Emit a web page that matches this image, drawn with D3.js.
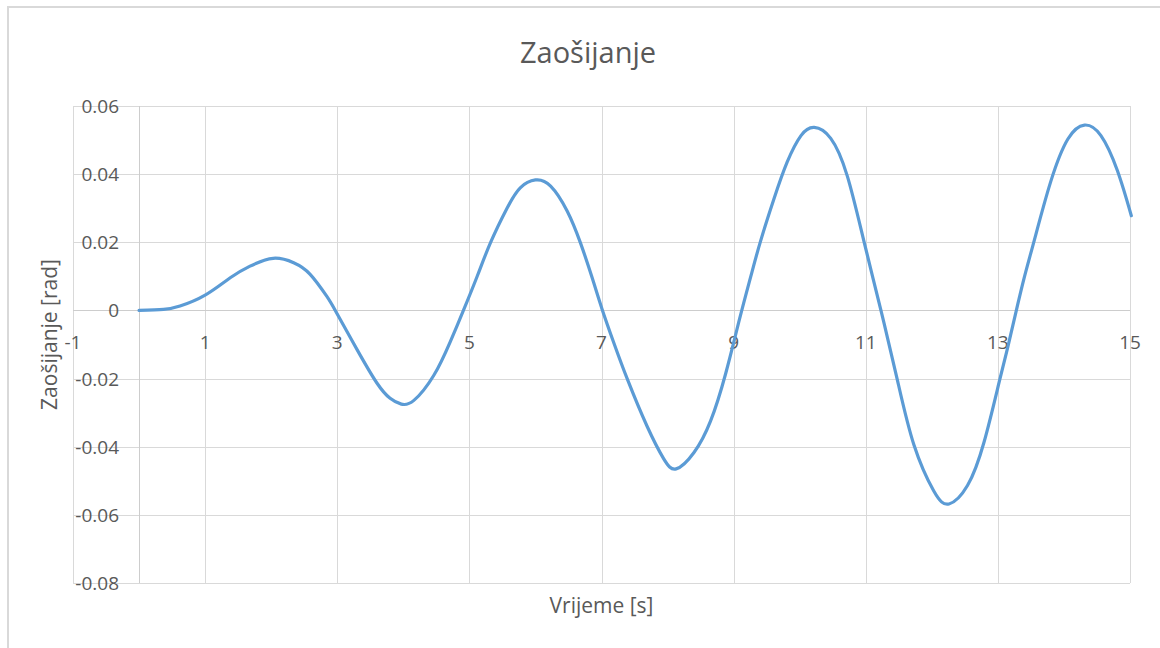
<!DOCTYPE html>
<html>
<head>
<meta charset="utf-8">
<script src="https://cdn.jsdelivr.net/npm/d3@7"></script>
<style>
  html, body { margin: 0; padding: 0; background: #fff; }
  svg { display: block; font-family: "Open Sans", "DejaVu Sans", sans-serif; }
</style>
</head>
<body>
<svg id="chart" width="1160" height="648"></svg>
<script>
// Time samples [s] and steering angle [rad]
const time = [0, 0.37, 0.62, 1.0, 1.38, 1.68, 2.03, 2.34, 2.59, 2.84, 2.97, 3.30, 3.60, 3.80, 3.97,
  4.16, 4.46, 4.71, 4.91, 5.12, 5.32, 5.57, 5.77, 6.00, 6.23, 6.48, 6.68, 6.86, 7.01, 7.19, 7.39,
  7.69, 7.94, 8.13, 8.40, 8.65, 8.88, 9.09, 9.26, 9.41, 9.61, 9.81, 10.02, 10.22, 10.47, 10.72,
  10.97, 11.23, 11.48, 11.73, 12.03, 12.26, 12.54, 12.79, 13.02, 13.15, 13.27, 13.40, 13.55,
  13.80, 14.06, 14.31, 14.56, 14.81, 15.02];
const angle = [0, 0.0003, 0.0013, 0.0045, 0.0096, 0.0130, 0.0153, 0.0140, 0.0106, 0.0042, 0,
  -0.0115, -0.0213, -0.0258, -0.0275,
  -0.0264, -0.0191, -0.0092, 0, 0.0101, 0.0199, 0.0300, 0.0360, 0.0383,
  0.0365, 0.0292, 0.0199, 0.0095, 0.0003, -0.0097, -0.0201, -0.0340, -0.0435, -0.0465,
  -0.0417, -0.0325, -0.0185, -0.0025, 0.0100, 0.0205, 0.0327, 0.0435, 0.0513, 0.0537,
  0.0505, 0.0395, 0.0205, 0, -0.0205, -0.0395, -0.0530, -0.0568,
  -0.0514, -0.0387, -0.0210, -0.0108, -0.0008, 0.0097, 0.0205, 0.0378, 0.0503, 0.0544,
  0.0513, 0.0410, 0.0278];

const xTicks = [-1, 1, 3, 5, 7, 9, 11, 13, 15];
const yTicks = [0.06, 0.04, 0.02, 0, -0.02, -0.04, -0.06, -0.08];
const yTickLabels = ["0.06", "0.04", "0.02", "0", "-0.02", "-0.04", "-0.06", "-0.08"];

const title = "Zaošijanje";
const xTitle = "Vrijeme [s]";
const yTitle = "Zaošijanje [rad]";

const svg = d3.select("#chart");
const plot = { left: 73, right: 1130, top: 106, bottom: 583 };

const x = d3.scaleLinear().domain([-1, 15]).range([plot.left, plot.right]);
const y = d3.scaleLinear().domain([-0.08, 0.06]).range([plot.bottom, plot.top]);

// chart frame
svg.append("rect")
  .attr("x", 8).attr("y", 7).attr("width", 1180).attr("height", 680)
  .attr("fill", "#fff").attr("stroke", "#d9d9d9").attr("stroke-width", 2);

// grid
const grid = svg.append("g").attr("shape-rendering", "crispEdges");
grid.selectAll(".hg").data(yTicks).join("line")
  .attr("x1", plot.left).attr("x2", plot.right)
  .attr("y1", d => Math.round(y(d)) + 0.5).attr("y2", d => Math.round(y(d)) + 0.5)
  .attr("stroke", "#d9d9d9").attr("stroke-width", 1);
grid.selectAll(".vg").data(xTicks).join("line")
  .attr("y1", plot.top).attr("y2", plot.bottom)
  .attr("x1", d => Math.round(x(d)) + 0.5).attr("x2", d => Math.round(x(d)) + 0.5)
  .attr("stroke", "#d9d9d9").attr("stroke-width", 1);

// axis lines crossing at the origin
const axes = svg.append("g").attr("shape-rendering", "crispEdges");
axes.append("line")
  .attr("x1", plot.left).attr("x2", plot.right)
  .attr("y1", Math.round(y(0)) + 0.5).attr("y2", Math.round(y(0)) + 0.5)
  .attr("stroke", "#cdcdcd");
axes.append("line")
  .attr("x1", Math.round(x(0)) + 0.5).attr("x2", Math.round(x(0)) + 0.5)
  .attr("y1", plot.top).attr("y2", plot.bottom)
  .attr("stroke", "#cdcdcd");

// y tick labels
svg.append("g").selectAll("text").data(yTicks).join("text")
  .attr("x", 119).attr("y", d => y(d) + 7)
  .attr("text-anchor", "end")
  .attr("font-size", 19).attr("fill", "#595959")
  .text((d, i) => yTickLabels[i]);

// x tick labels
svg.append("g").selectAll("text").data(xTicks).join("text")
  .attr("x", d => x(d)).attr("y", y(0) + 39)
  .attr("text-anchor", "middle")
  .attr("font-size", 19).attr("fill", "#595959")
  .text(d => String(d));

// titles
svg.append("text")
  .attr("x", 588).attr("y", 63)
  .attr("text-anchor", "middle")
  .attr("font-size", 29).attr("fill", "#595959")
  .text(title);
svg.append("text")
  .attr("x", (plot.left + plot.right) / 2).attr("y", 613)
  .attr("text-anchor", "middle")
  .attr("font-size", 21).attr("fill", "#595959")
  .text(xTitle);
svg.append("text")
  .attr("transform", `translate(57, ${(plot.top + plot.bottom) / 2 - 10}) rotate(-90)`)
  .attr("text-anchor", "middle")
  .attr("font-size", 21).attr("fill", "#595959")
  .text(yTitle);

// series
const data = time.map((t, i) => ({ t, v: angle[i] }));
const line = d3.line()
  .x(d => x(d.t)).y(d => y(d.v))
  .curve(d3.curveNatural);
svg.append("path")
  .datum(data)
  .attr("d", line)
  .attr("fill", "none")
  .attr("stroke", "#5b9bd5")
  .attr("stroke-width", 3.2)
  .attr("stroke-linejoin", "round")
  .attr("stroke-linecap", "round");
</script>
</body>
</html>
